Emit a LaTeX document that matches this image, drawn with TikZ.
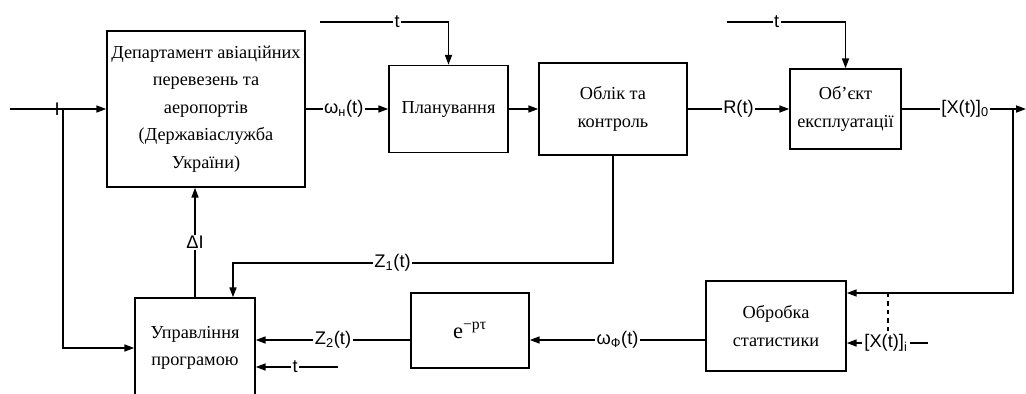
\documentclass[tikz,border=0pt]{standalone}
\usepackage{fontspec}
\setmainfont{Liberation Serif}
\newfontfamily\lblfont{Liberation Sans}
\usetikzlibrary{arrows.meta, calc}

\begin{document}
\begin{tikzpicture}[x=0.025cm, y=-0.025cm, >={Triangle[length=7pt,width=5pt]},
  line width=1.1pt,
  blk/.style={draw, rectangle, align=center, inner sep=2pt,
    font=\fontsize{13}{19.5}\selectfont},
  lbl/.style={font=\lblfont\fontsize{13}{15}\selectfont, inner sep=1pt, fill=white}]
  \useasboundingbox (0,0) rectangle (1026,394);
  \clip (0,0) rectangle (1026,394);
  % blocks (px coordinates, y downwards)
  \node[blk, minimum width=4.95cm, minimum height=3.9cm] (dept) at (206,109)
    {Департамент авіаційних\\перевезень та\\аеропортів\\(Державіаслужба\\України)};
  \node[blk, minimum width=2.975cm, minimum height=2.175cm] (plan) at (448.5,109) {Планування};
  \node[blk, minimum width=3.7cm, minimum height=2.3cm] (oblik) at (613,109) {Облік та\\контроль};
  \node[blk, minimum width=2.775cm, minimum height=2cm] (obj) at (845.5,109) {Об'єкт\\експлуатації};
  \node[blk, minimum width=3cm, minimum height=2.5cm] (upr) at (195,348) {Управління\\програмою};
  \node[blk, minimum width=2.95cm, minimum height=1.875cm, font=\fontsize{16}{19}\selectfont] (ept) at (470,330.5) {e\textsuperscript{−pτ}};
  \node[blk, minimum width=3.5cm, minimum height=2.25cm] (obr) at (776,326) {Обробка\\статистики};
  % free ends
  \coordinate (in) at (10,109);
  \coordinate (br) at (63,109);
  \coordinate (t1) at (320,22);
  \coordinate (t2) at (727,22);
  \coordinate (xb) at (1013,109);
  \coordinate (xend) at (1026,109);
  \coordinate (zc) at (233,263);
  \coordinate (lowrow) at (0,340);
  \coordinate (tu) at (338,367);
  \coordinate (dj) at (888,293);
  \coordinate (xiend) at (928,343);
  % upper row
  \draw[->] (in) -- node[pos=0.49, inner sep=0pt, font=\lblfont\fontsize{13}{15}\selectfont] {I} (dept.west);
  \draw[->] (dept.east) -- node[lbl, pos=0.46] {ω\textsubscript{н}(t)} (plan.west);
  \draw[->] (plan.east) -- (oblik.west);
  \draw[->] (oblik.east) -- node[lbl] {R(t)} (obj.west);
  \draw[->] (obj.east) -- node[lbl, pos=0.51] {[X(t)]\textsubscript{0}} (xend);
  \draw[->] (t1) -| node[lbl, pos=0.3] {t} (plan.north);
  \draw[->] (t2) -| node[lbl, pos=0.21] {t} (obj.north);
  % feedback
  \draw[->] (br) |- (upr.west);
  \draw[->] (upr.north) -- node[lbl] {ΔI} (upr.north |- dept.south);
  \draw[->] (oblik.south) |- node[lbl, pos=0.79] {Z\textsubscript{1}(t)} (zc) -- (zc |- upr.north);
  \draw[->] (xb) |- ($(obr.east)+(0,-33)$);
  \draw[dashed, line width=0.8pt] (dj) -- (888,333);
  \node[lbl] (xi) at (886,343) {[X(t)]\textsubscript{i}};
  \draw[->] (xi) -- (xi -| obr.east);
  \draw (xi.east) -- (xiend);
  % lower row
  \draw[->] (obr.west |- lowrow) -- node[lbl] {ω\textsubscript{Ф}(t)} (ept.east |- lowrow);
  \draw[->] (ept.west |- lowrow) -- node[lbl] {Z\textsubscript{2}(t)} (upr.east |- lowrow);
  \draw[->] (tu) -- node[lbl, pos=0.52] {t} (tu -| upr.east);
\end{tikzpicture}
\end{document}
